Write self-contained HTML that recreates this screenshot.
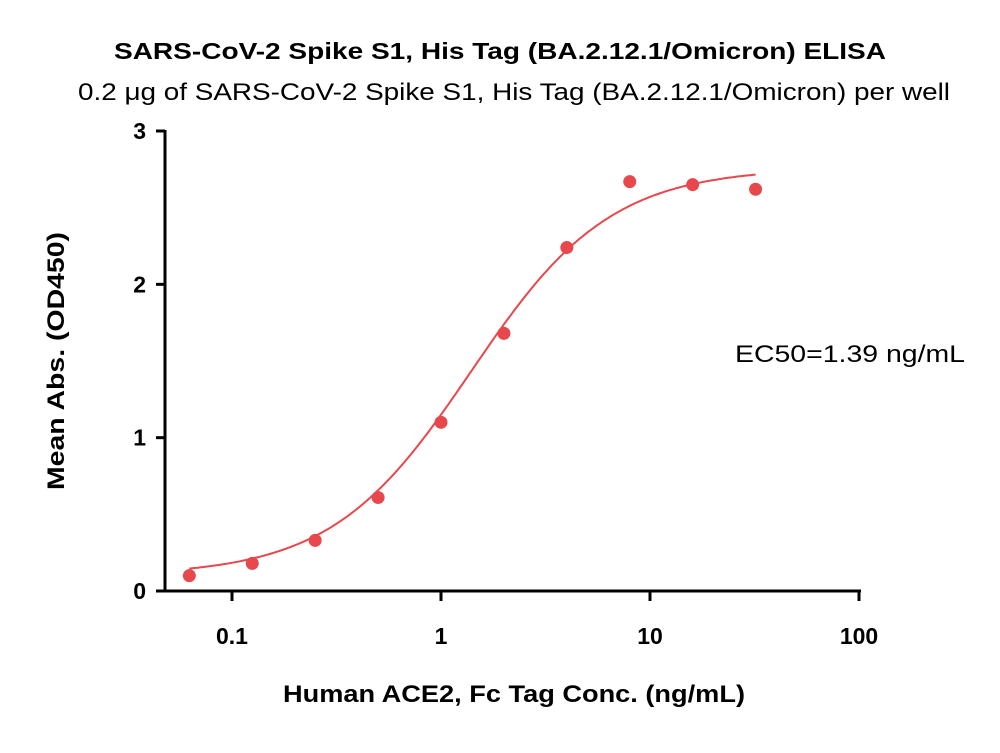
<!DOCTYPE html>
<html><head><meta charset="utf-8"><style>
body{margin:0;background:#fff;}
svg text{font-family:"Liberation Sans",Arial,sans-serif;}
</style></head><body>
<svg id="chart" width="1000" height="748" viewBox="0 0 1000 748">
<text x="500" y="59" text-anchor="middle" font-size="23" font-weight="bold" textLength="772" lengthAdjust="spacingAndGlyphs">SARS-CoV-2 Spike S1, His Tag (BA.2.12.1/Omicron) ELISA</text>
<text x="514" y="100" text-anchor="middle" font-size="24" textLength="872" lengthAdjust="spacingAndGlyphs">0.2 μg of SARS-CoV-2 Spike S1, His Tag (BA.2.12.1/Omicron) per well</text>
<text x="850" y="362" text-anchor="middle" font-size="24" textLength="230" lengthAdjust="spacingAndGlyphs">EC50=1.39 ng/mL</text>
<text transform="translate(64,361) rotate(-90)" text-anchor="middle" font-size="24" font-weight="bold" textLength="258" lengthAdjust="spacingAndGlyphs">Mean Abs. (OD450)</text>
<text x="514" y="702" text-anchor="middle" font-size="24" font-weight="bold" textLength="462" lengthAdjust="spacingAndGlyphs">Human ACE2, Fc Tag Conc. (ng/mL)</text>
<g id="axes"></g><g id="marks"></g>
</svg>
<script>
const concentrations=[0.0625,0.125,0.25,0.5,1,2,4,8,16,32];
const absorbance=[0.10,0.18,0.33,0.61,1.10,1.68,2.24,2.67,2.65,2.62];
const yTicks=[0,1,2,3];
const xTicks=[0.1,1,10,100];
const xTickLabels=["0.1","1","10","100"];
const fitBottom=0.10, fitTop=2.76, fitEC50=1.39, fitHill=1.3;
const ns="http://www.w3.org/2000/svg";
function X(v){return 441+209*Math.log10(v);}
function Y(v){return 591-153.33*v;}
function mk(t,a,p){const e=document.createElementNS(ns,t);for(const k in a)e.setAttribute(k,a[k]);p.appendChild(e);return e;}
const ax=document.getElementById('axes'),mg=document.getElementById('marks');
let e=mk('line',{x1:165,y1:Y(3)-1,x2:165,y2:592,stroke:'#000','stroke-width':3},ax);


e=mk('line',{x1:164,y1:591,x2:861,y2:591,stroke:'#000','stroke-width':3},ax);


yTicks.forEach(v=>{
 let t=mk('line',{x1:156,y1:Y(v),x2:165,y2:Y(v),stroke:'#000','stroke-width':3},ax);
 
 
 let l=mk('text',{x:146,y:Y(v)+8,'text-anchor':'end','font-size':23,'font-weight':'bold'},ax);
 l.textContent=v;
 
 
});
xTicks.forEach((v,i)=>{
 let t=mk('line',{x1:X(v),y1:591,x2:X(v),y2:601,stroke:'#000','stroke-width':3},ax);
 
 
 let l=mk('text',{x:X(v),y:644,'text-anchor':'middle','font-size':23,'font-weight':'bold'},ax);
 l.textContent=xTickLabels[i];
 
 
});
let d='';
for(let i=0;i<=200;i++){
 const lx=Math.log10(concentrations[0])+(Math.log10(concentrations[concentrations.length-1])-Math.log10(concentrations[0]))*i/200;
 const c=Math.pow(10,lx);
 const v=fitBottom+(fitTop-fitBottom)/(1+Math.pow(fitEC50/c,fitHill));
 d+=(i?'L':'M')+X(c).toFixed(1)+','+Y(v).toFixed(1);
}
e=mk('path',{d:d,fill:'none',stroke:'#e8474b','stroke-width':2},mg);


concentrations.forEach((c,i)=>{
 let p=mk('circle',{cx:X(c),cy:Y(absorbance[i]),r:6.5,fill:'#e8474b'},mg);
 
 
});
</script>
</body></html>
